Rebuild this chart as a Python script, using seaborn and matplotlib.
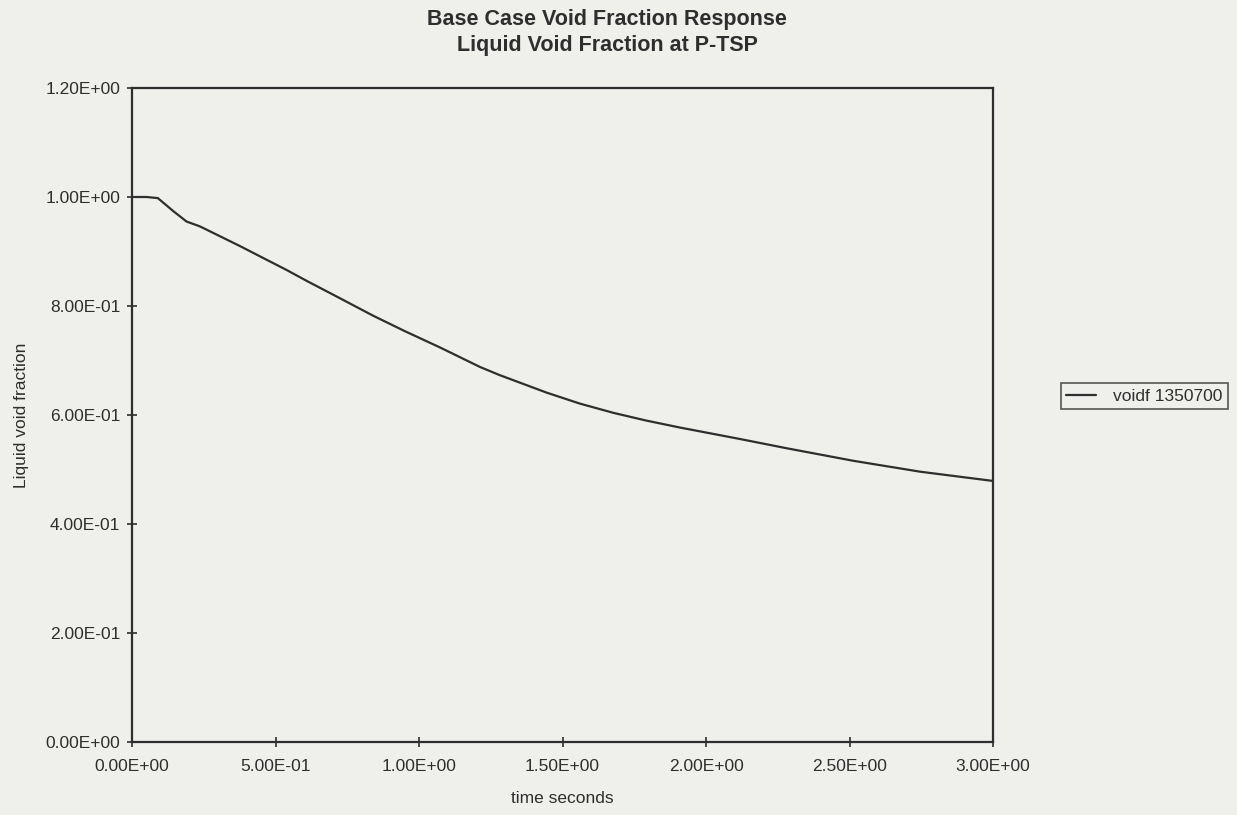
import numpy as np
import pandas as pd
import matplotlib
matplotlib.use("Agg")
import matplotlib.pyplot as plt
import seaborn as sns

# Liquid void fraction history at the P-TSP node
time_s = [0.0, 0.05, 0.09, 0.144, 0.19, 0.237, 0.376, 0.45, 0.539, 0.609,
          0.70, 0.841, 0.95, 1.073, 1.213, 1.282, 1.445, 1.56, 1.677, 1.79,
          1.909, 2.118, 2.281, 2.513, 2.746, 3.0]
voidf = [1.0, 1.0, 0.998, 0.974, 0.955, 0.946, 0.910, 0.890, 0.866, 0.846,
         0.821, 0.782, 0.754, 0.724, 0.688, 0.673, 0.641, 0.621, 0.604, 0.590,
         0.577, 0.556, 0.539, 0.516, 0.496, 0.479]
series_name = "voidf 1350700"

x_ticks = [0.0, 0.5, 1.0, 1.5, 2.0, 2.5, 3.0]
x_tick_labels = ["0.00E+00", "5.00E-01", "1.00E+00", "1.50E+00", "2.00E+00", "2.50E+00", "3.00E+00"]
y_ticks = [0.0, 0.2, 0.4, 0.6, 0.8, 1.0, 1.2]
y_tick_labels = ["0.00E+00", "2.00E-01", "4.00E-01", "6.00E-01", "8.00E-01", "1.00E+00", "1.20E+00"]

df = pd.DataFrame({"time": time_s, "value": voidf, "series": series_name})

sns.set_theme(style="white")
plt.rcParams["font.family"] = ["Liberation Sans", "DejaVu Sans"]

paper = "#efefec"
ink = "#2e2e2e"

fig = plt.figure(figsize=(12.37, 8.15), dpi=100, facecolor=paper)
ax = fig.add_axes([132 / 1237, 1 - 742 / 815, (993 - 132) / 1237, (742 - 88) / 815])
ax.set_facecolor(paper)

sns.lineplot(data=df, x="time", y="value", hue="series", palette=[ink],
             linewidth=1.6, ax=ax, legend=False)

ax.set_xlim(0, 3.0)
ax.set_ylim(0, 1.2)
ax.set_xticks(x_ticks)
ax.set_xticklabels(x_tick_labels)
ax.set_yticks(y_ticks)
ax.set_yticklabels(y_tick_labels)
ax.tick_params(axis="both", bottom=True, left=True, top=False, right=False,
               direction="inout", length=7, width=1.2, colors=ink,
               labelsize=12.5, labelcolor=ink, pad=5)
ax.tick_params(axis="x", pad=9)

for sp in ax.spines.values():
    sp.set_visible(True)
    sp.set_color(ink)
    sp.set_linewidth(1.6)

ax.set_xlabel("time seconds", fontsize=12.5, color=ink, labelpad=12)
ax.set_ylabel("Liquid void fraction", fontsize=12.5, color=ink, labelpad=12)

fig.text(607 / 1237, 1 - 20 / 815, "Base Case Void Fraction Response",
         ha="center", va="center", fontsize=15.5, fontweight="bold", color=ink)
fig.text(607 / 1237, 1 - 46 / 815, "Liquid Void Fraction at P-TSP",
         ha="center", va="center", fontsize=15.5, fontweight="bold", color=ink)

handle = plt.Line2D([], [], color=ink, linewidth=1.6)
leg = fig.legend([handle], [series_name], loc="center left",
                 bbox_to_anchor=(1061 / 1237, 1 - 396 / 815),
                 frameon=True, fancybox=False, fontsize=12.5, handlelength=1.7,
                 handletextpad=1.0, borderpad=0.3, borderaxespad=0.0,
                 facecolor=paper)
leg.get_frame().set_edgecolor(ink)
leg.get_frame().set_linewidth(1.2)
for t in leg.get_texts():
    t.set_color(ink)

fig.savefig("out.png", dpi=100, facecolor=paper)
